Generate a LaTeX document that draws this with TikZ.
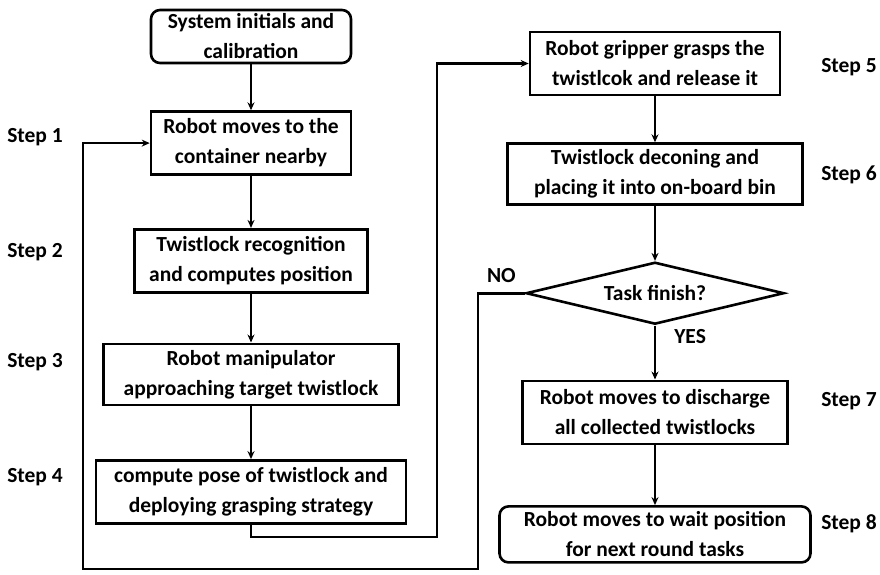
\documentclass[tikz,border=0pt]{standalone}
\usepackage{fontspec}
\setmainfont{Carlito}
\usepackage{tikz}
\usetikzlibrary{shapes.geometric,arrows.meta,positioning}

\begin{document}
\begin{tikzpicture}[x=1pt,y=-1pt,->,>={Stealth[length=8pt,width=7pt]},line width=2.6pt,
  font=\fontsize{21.5}{30}\selectfont\bfseries]
\tikzstyle{every node}=[align=center,inner sep=0pt]
\tikzstyle{stepbox}=[draw,->,minimum height=63pt]
\tikzstyle{endbox}=[stepbox,rounded corners=9pt]
\tikzstyle{check}=[draw,diamond,aspect=4.2,minimum width=258pt,minimum height=62pt]
\tikzstyle{steplabel}=[anchor=center]
\useasboundingbox (0,0) rectangle (880,574);
% left column
\node[endbox,minimum width=200pt,minimum height=53pt] (start) at (251,36.5) {System initials and\\calibration};
\node[stepbox,minimum width=200pt][below=46pt of start] (move) {Robot moves to the\\container nearby};
\node[stepbox,minimum width=233pt][below=52pt of move] (recog) {Twistlock recognition\\and computes position};
\node[stepbox,minimum width=295pt,minimum height=61pt][below=49pt of recog] (approach) {Robot manipulator\\approaching target twistlock};
\node[stepbox,minimum width=310pt][below=53pt of approach] (pose) {compute pose of twistlock and\\deploying grasping strategy};
% right column
\node[stepbox,minimum width=250pt] (grasp) at (655,63.5) {Robot gripper grasps the\\twistlcok and release it};
\node[stepbox,minimum width=295pt,minimum height=61pt][below=46pt of grasp] (place) {Twistlock deconing and\\placing it into on-board bin};
\node[check][below=55pt of place] (finish) {Task finish?};
\node[stepbox,minimum width=265pt][below=54pt of finish] (discharge) {Robot moves to discharge\\all collected twistlocks};
\node[endbox,minimum width=311pt,minimum height=56pt][below=60pt of discharge] (wait) {Robot moves to wait position\\for next round tasks};
% step names
\node[steplabel] (s1) at (35,137) {Step 1};
\node[steplabel] (s2) at (35,252) {Step 2};
\node[steplabel] (s3) at (35,362) {Step 3};
\node[steplabel] (s4) at (35,477) {Step 4};
\node[steplabel] (s5) at (849,67) {Step 5};
\node[steplabel] (s6) at (849,175) {Step 6};
\node[steplabel] (s7) at (849,401) {Step 7};
\node[steplabel] (s8) at (849,524) {Step 8};
% corners of the two loops
\coordinate (c1) at (437,537);
\coordinate (c2) at (478,569);
\coordinate (c3) at (83,569);
\path (start) edge (move)
      (move) edge (recog)
      (recog) edge (approach)
      (approach) edge (pose)
      (grasp) edge (place)
      (place) edge (finish)
      (finish) edge node[right=18pt,pos=0.2] (yes) {YES} (discharge)
      (discharge) edge (wait);
\draw (pose.south) |- (c1) |- (grasp.west);
\draw (finish.west) -| node[pos=0.25,above=9pt] (no) {NO} (c2) -- (c3) |- (move.west);
\end{tikzpicture}
\end{document}
